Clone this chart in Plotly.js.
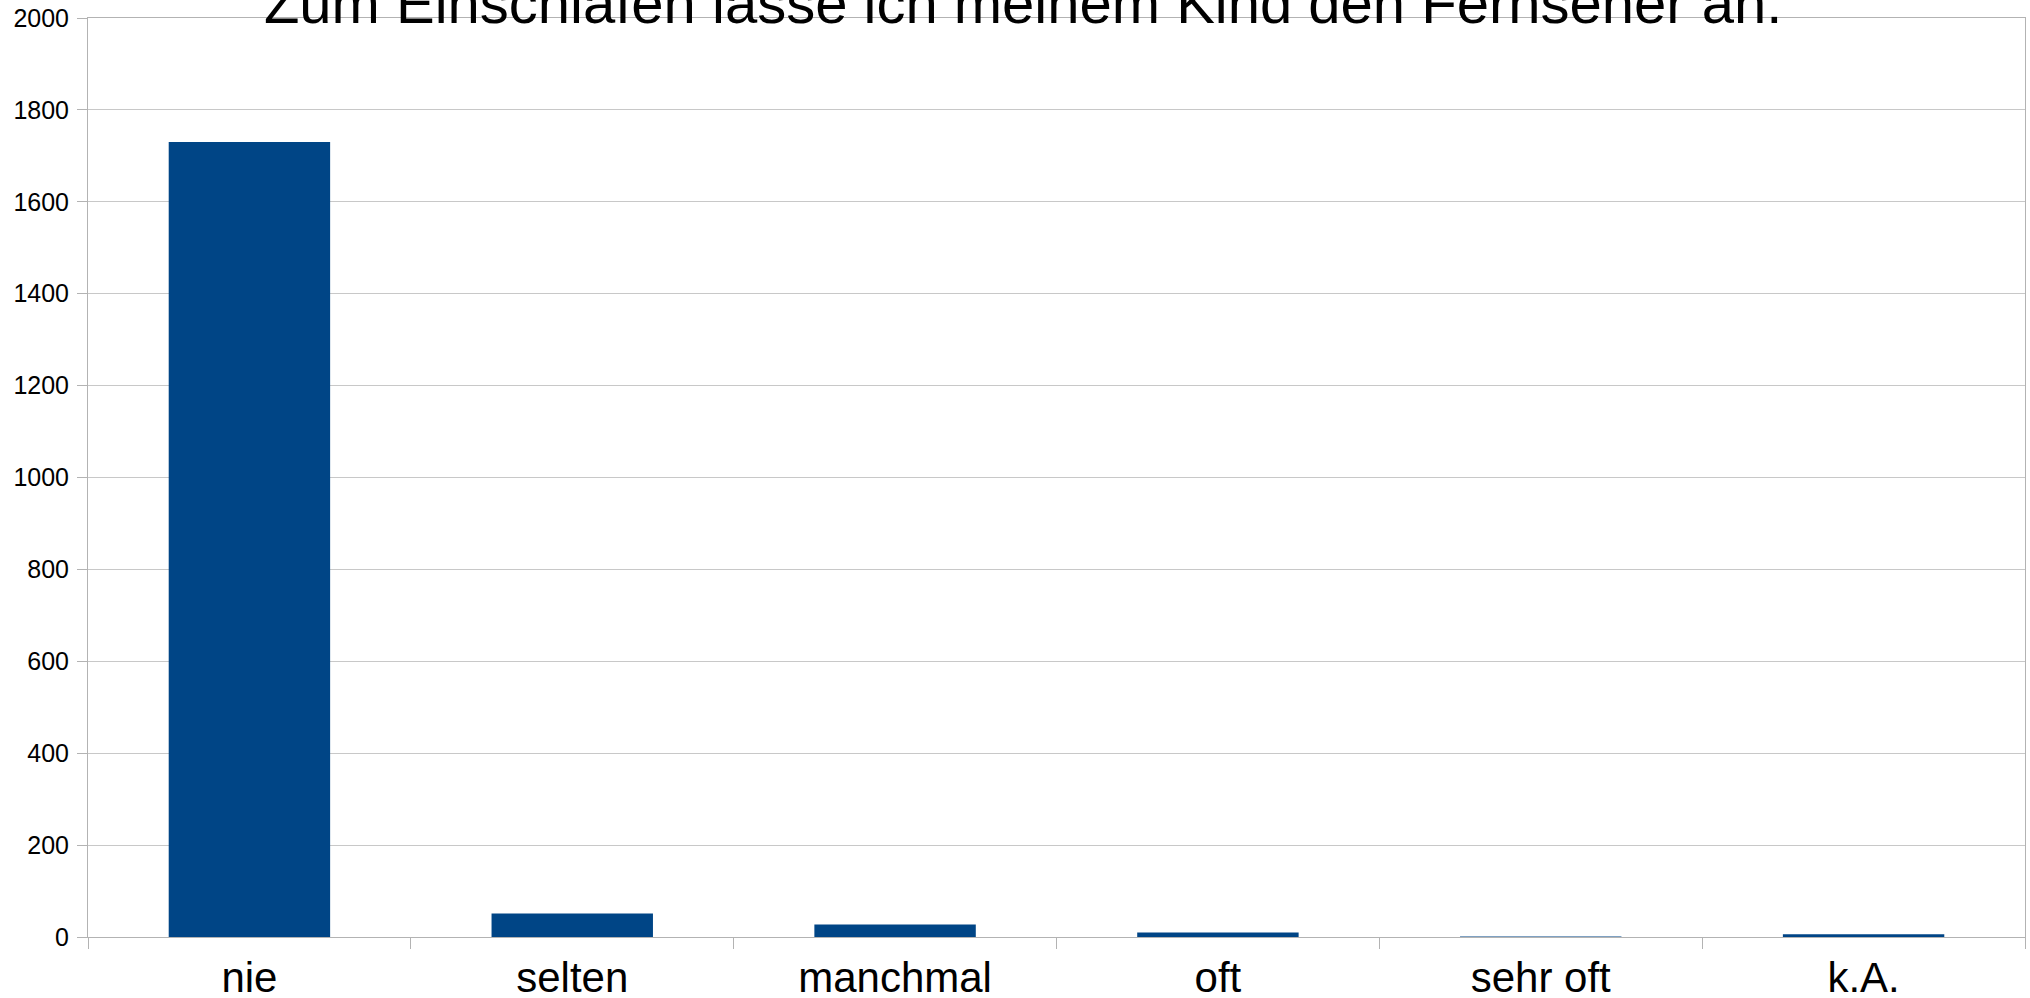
<!DOCTYPE html>
<html><head><meta charset="utf-8">
<script src="https://cdn.plot.ly/plotly-3.0.1.min.js"></script>
<style>html,body{margin:0;padding:0;background:#fff;}#chart{width:2030px;height:998px;}</style>
</head><body><div id="chart"></div>
<script>
const categories = ["nie", "selten", "manchmal", "oft", "sehr oft", "k.A."];
const counts = [1730, 51, 27, 10, 1, 6];
const yTicks = [0, 200, 400, 600, 800, 1000, 1200, 1400, 1600, 1800, 2000];
const titleText = "Zum Einschlafen lasse ich meinem Kind den Fernseher an.";

const trace = {
  type: "bar", x: categories, y: counts,
  marker: {color: "#004586", line: {width: 0}},
  hoverinfo: "x+y"
};
const layout = {
  width: 2030, height: 998,
  margin: {l: 88, r: 5, t: 18, b: 61},
  paper_bgcolor: "#ffffff", plot_bgcolor: "#ffffff",
  font: {family: "Liberation Sans, Arial, sans-serif", color: "#000"},
  title: {text: titleText, font: {size: 58, color: "#000"}, x: 0.504, xanchor: "center", xref: "container", yref: "container", y: 0.977, yanchor: "bottom"},
  bargap: 0.5,
  showlegend: false,
  xaxis: {
    type: "category", tickson: "boundaries", ticks: "outside", ticklen: 11, tickcolor: "#b3b3b3",
    showline: true, linecolor: "#b3b3b3", linewidth: 1, mirror: true,
    showgrid: false, tickfont: {size: 42}, ticklabelstandoff: 4, fixedrange: true
  },
  yaxis: {
    range: [0, 2000], tickvals: yTicks, ticks: "outside", ticklen: 10, tickcolor: "#b3b3b3",
    showline: true, linecolor: "#b3b3b3", linewidth: 1, mirror: true,
    showgrid: true, gridcolor: "#c8c8c8", gridwidth: 1, zeroline: false,
    tickfont: {size: 25}, ticklabelstandoff: 3, fixedrange: true
  }
};
Plotly.newPlot("chart", [trace], layout, {displayModeBar: false, staticPlot: true});
</script></body></html>
